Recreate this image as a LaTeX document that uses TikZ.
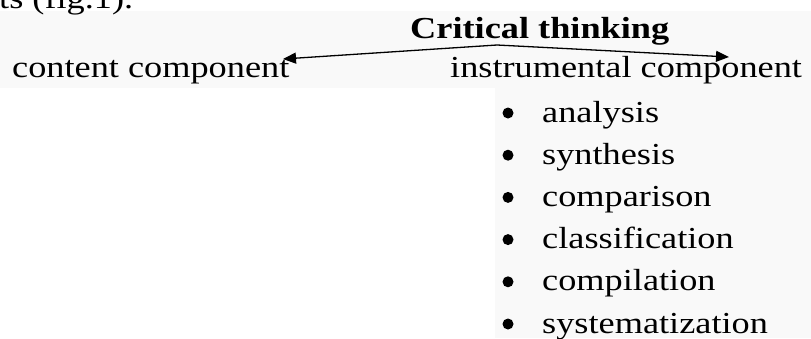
\documentclass[tikz,border=0pt]{standalone}
\usepackage{fontspec}
\setmainfont{Liberation Serif}[FakeStretch=1.19]
\usetikzlibrary{arrows.meta}
\definecolor{bgpaper}{RGB}{249,249,249}
\tikzset{
  txt/.style={anchor=base west, inner sep=0pt, font=\fontsize{30.5}{36}\selectfont, text=black},
  ttl/.style={txt, font=\fontsize{30.5}{36}\selectfont\bfseries},
  conn/.style={line width=1.3pt, -{Triangle[length=13pt,width=11pt]}},
  dot/.style={circle, fill=black, inner sep=0pt, minimum size=11pt}
}
\begin{document}
\begin{tikzpicture}[x=1pt,y=-1pt]
\useasboundingbox (0,0) rectangle (811,338);
\fill[bgpaper] (0,0) rectangle (811,338);
\fill[white] (0,0) rectangle (811,11);
\fill[white] (0,88) rectangle (495,338);
\node[txt] (prev) at (-1,8) {ts (fig.1).};
\node[ttl] (title) at (410,38) {Critical thinking};
\node[txt] (content) at (12,77) {content component};
\node[txt] (instr) at (450,77) {instrumental component};
\coordinate (src) at (497,45);
\coordinate (ltip) at (283,59);
\coordinate (rtip) at (729,57);
\draw[conn] (src) -- (ltip);
\draw[conn] (src) -- (rtip);
\foreach \t [count=\i from 0] in {analysis,synthesis,comparison,classification,compilation,systematization}{
  \node[dot] (b\i) at (508,{113+42.2*\i}) {};
  \node[txt] (item\i) at (542,{122+42.2*\i}) {\t};
}
\end{tikzpicture}
\end{document}
